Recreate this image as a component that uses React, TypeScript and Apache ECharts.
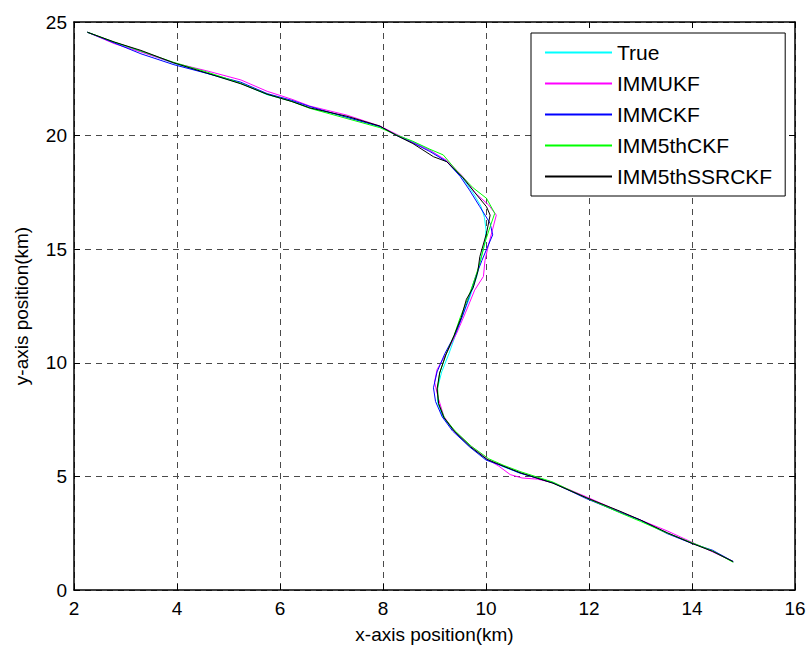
import React, { useEffect, useRef } from "react";
import * as echarts from "echarts";

const seriesNames = ["True", "IMMUKF", "IMMCKF", "IMM5thCKF", "IMM5thSSRCKF"];
const seriesColors = ["#00ffff", "#ff00ff", "#0000ff", "#00ff00", "#000000"];

const xTicks = [2, 4, 6, 8, 10, 12, 14, 16];
const yTicks = [0, 5, 10, 15, 20, 25];

const trueXY: number[][] = [
  [2.26, 24.55], [2.78, 24.1], [3.3, 23.7], [3.94, 23.18], [4.58, 22.74], [5.24, 22.3],
  [5.75, 21.8], [6.23, 21.52], [6.58, 21.21], [7.3, 20.83], [7.94, 20.39], [8.27, 20.03],
  [8.58, 19.73], [8.91, 19.37], [9.24, 18.85], [9.55, 18.12], [9.75, 17.47], [9.9, 16.9],
  [9.97, 16.4], [10.0, 15.85], [9.98, 15.27], [9.89, 14.52], [9.82, 13.79], [9.69, 12.91],
  [9.55, 12.1], [9.42, 11.3], [9.28, 10.4], [9.14, 9.6], [9.06, 8.9], [9.06, 8.25],
  [9.16, 7.63], [9.36, 7.04], [9.69, 6.31], [10.01, 5.75], [10.33, 5.43], [10.66, 5.15],
  [11.3, 4.71], [11.96, 4.05], [12.6, 3.45], [13.0, 3.05], [13.52, 2.51], [14.0, 2.07],
  [14.4, 1.7], [14.8, 1.25],
];

const immukfXY: number[][] = [
  [2.26, 24.55], [2.78, 24.05], [3.3, 23.68], [3.94, 23.2], [4.58, 22.85], [5.24, 22.45],
  [5.75, 21.95], [6.23, 21.6], [6.58, 21.3], [7.3, 20.9], [7.94, 20.42], [8.27, 20.05],
  [8.58, 19.7], [8.91, 19.35], [9.24, 18.9], [9.55, 18.2], [9.8, 17.45], [10.05, 16.95],
  [10.2, 16.5], [10.12, 15.8], [10.05, 15.2], [9.98, 14.5], [9.95, 13.8], [9.78, 13.2],
  [9.6, 12.2], [9.43, 11.3], [9.25, 10.5], [9.05, 9.7], [9.0, 9.15], [9.08, 8.4],
  [9.18, 7.65], [9.38, 7.0], [9.7, 6.35], [10.05, 5.72], [10.25, 5.45], [10.47, 5.08],
  [10.7, 4.93], [11.0, 4.88], [11.3, 4.72], [11.95, 4.1], [12.6, 3.45], [13.0, 3.08],
  [13.52, 2.6], [14.0, 2.1], [14.4, 1.68], [14.8, 1.25],
];

const immckfXY: number[][] = [
  [2.26, 24.55], [2.78, 24.08], [3.3, 23.6], [3.94, 23.12], [4.58, 22.74], [5.24, 22.35],
  [5.75, 21.85], [6.23, 21.55], [6.58, 21.28], [7.3, 20.8], [7.94, 20.4], [8.27, 20.0],
  [8.58, 19.68], [8.91, 19.3], [9.24, 18.85], [9.5, 18.2], [9.68, 17.6], [9.88, 16.87],
  [10.08, 16.14], [10.13, 15.63], [10.03, 15.1], [9.92, 14.5], [9.8, 13.8], [9.68, 12.95],
  [9.55, 12.1], [9.4, 11.25], [9.2, 10.4], [9.05, 9.6], [8.98, 8.9], [9.02, 8.3],
  [9.15, 7.62], [9.35, 7.0], [9.68, 6.3], [10.0, 5.72], [10.33, 5.45], [10.65, 5.15],
  [11.3, 4.72], [11.95, 4.02], [12.6, 3.42], [13.0, 3.08], [13.52, 2.48], [14.0, 2.05],
  [14.4, 1.75], [14.8, 1.25],
];

const imm5thckfXY: number[][] = [
  [2.26, 24.55], [2.78, 24.12], [3.3, 23.72], [3.94, 23.22], [4.58, 22.8], [5.24, 22.3],
  [5.75, 21.82], [6.23, 21.5], [6.58, 21.2], [7.3, 20.75], [7.94, 20.35], [8.27, 20.02],
  [8.58, 19.75], [8.91, 19.4], [9.17, 19.15], [9.45, 18.4], [9.75, 17.7], [10.01, 17.24],
  [10.17, 16.58], [10.08, 15.99], [9.98, 15.3], [9.9, 14.55], [9.8, 13.8], [9.66, 12.9],
  [9.5, 12.0], [9.38, 11.2], [9.22, 10.35], [9.1, 9.55], [9.06, 8.85], [9.08, 8.2],
  [9.2, 7.55], [9.4, 7.0], [9.72, 6.32], [10.05, 5.78], [10.35, 5.48], [10.68, 5.2],
  [11.3, 4.75], [11.95, 4.05], [12.6, 3.4], [13.0, 3.02], [13.52, 2.5], [14.0, 2.08],
  [14.4, 1.72], [14.8, 1.22],
];

const imm5thssrckfXY: number[][] = [
  [2.26, 24.55], [2.78, 24.12], [3.3, 23.75], [3.94, 23.2], [4.58, 22.75], [5.24, 22.28],
  [5.75, 21.82], [6.23, 21.5], [6.58, 21.22], [7.3, 20.85], [7.94, 20.42], [8.27, 20.0],
  [8.58, 19.65], [8.98, 19.07], [9.24, 18.85], [9.55, 18.15], [9.78, 17.5], [10.01, 16.87],
  [10.08, 16.5], [10.01, 15.7], [9.88, 14.67], [9.84, 14.0], [9.75, 13.3], [9.62, 12.8],
  [9.52, 12.0], [9.38, 11.2], [9.22, 10.35], [9.1, 9.55], [9.05, 8.85], [9.08, 8.2],
  [9.18, 7.6], [9.38, 7.0], [9.7, 6.3], [10.02, 5.75], [10.35, 5.44], [10.68, 5.15],
  [11.3, 4.7], [11.96, 4.05], [12.6, 3.47], [13.0, 3.08], [13.52, 2.52], [14.0, 2.05],
  [14.4, 1.7], [14.8, 1.25],
];

const allData = [trueXY, immukfXY, immckfXY, imm5thckfXY, imm5thssrckfXY];

const FONT = "'Liberation Sans', Arial, Helvetica, sans-serif";

export default function App() {
  const ref = useRef<HTMLDivElement>(null);
  useEffect(() => {
    if (!ref.current) return;
    const chart = echarts.init(ref.current, null, { renderer: "svg" });
    const gridLine = { show: true, lineStyle: { color: "#4a4a4a", type: [6, 5] as any, width: 1 } };
    const axisLine = { show: true, onZero: false, lineStyle: { color: "#000", width: 1.5 } };
    const hiddenLabels = { show: false };
    chart.setOption({
      animation: false,
      backgroundColor: "#fff",
      textStyle: { fontFamily: FONT },
      grid: { left: 74, right: 14, top: 22, bottom: 59, containLabel: false },
      legend: {
        data: seriesNames,
        orient: "vertical",
        left: 531,
        top: 33,
        padding: [9, 13, 9, 13],
        itemGap: 10,
        itemWidth: 67,
        itemHeight: 14,
        itemTextGap: 6,
        itemStyle: { opacity: 0, borderWidth: 0 },
        backgroundColor: "#fff",
        borderColor: "#000",
        borderWidth: 1,
        borderRadius: 0,
        textStyle: { fontSize: 21, color: "#000", fontFamily: FONT },
      },
      xAxis: [
        {
          type: "value",
          min: 2,
          max: 16,
          interval: 2,
          position: "bottom",
          name: "x-axis position(km)",
          nameLocation: "middle",
          nameGap: 35,
          nameTextStyle: { fontSize: 19, color: "#000", fontFamily: FONT },
          axisLine,
          axisTick: { show: true, inside: true, length: 6, lineStyle: { color: "#000" } },
          axisLabel: { fontSize: 19, color: "#000", margin: 9, fontFamily: FONT },
          splitLine: gridLine,
        },
        {
          type: "value",
          min: 2,
          max: 16,
          interval: 2,
          position: "top",
          axisLine,
          axisTick: { show: true, inside: true, length: 6, lineStyle: { color: "#000" } },
          axisLabel: hiddenLabels,
          splitLine: { show: false },
        },
      ],
      yAxis: [
        {
          type: "value",
          min: 0,
          max: 25,
          interval: 5,
          position: "left",
          name: "y-axis position(km)",
          nameLocation: "middle",
          nameGap: 43,
          nameTextStyle: { fontSize: 19, color: "#000", fontFamily: FONT },
          axisLine,
          axisTick: { show: true, inside: true, length: 6, lineStyle: { color: "#000" } },
          axisLabel: { fontSize: 19, color: "#000", margin: 7, fontFamily: FONT },
          splitLine: gridLine,
        },
        {
          type: "value",
          min: 0,
          max: 25,
          interval: 5,
          position: "right",
          axisLine,
          axisTick: { show: true, inside: true, length: 6, lineStyle: { color: "#000" } },
          axisLabel: hiddenLabels,
          splitLine: { show: false },
        },
      ],
      series: seriesNames.map((name, i) => ({
        name,
        type: "line",
        xAxisIndex: 0,
        yAxisIndex: 0,
        data: allData[i],
        showSymbol: false,
        symbol: "none",
        smooth: false,
        color: seriesColors[i],
        lineStyle: { color: seriesColors[i], width: 1 },
        z: 2 + i,
      })),
    });
    return () => chart.dispose();
  }, []);
  return (
    <div
      ref={ref}
      style={{ position: "fixed", left: 0, top: 0, width: 809, height: 649, background: "#fff" }}
    />
  );
}
